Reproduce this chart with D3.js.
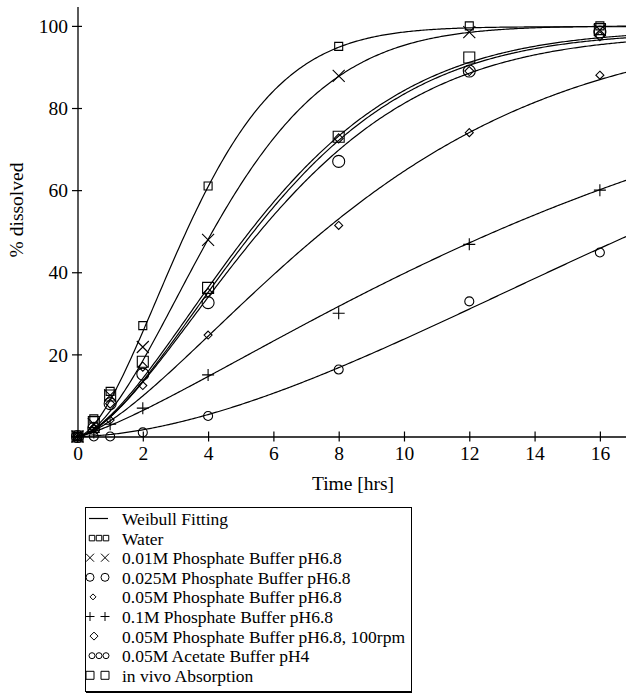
<!DOCTYPE html>
<html>
<head>
<meta charset="utf-8">
<script src="https://cdn.jsdelivr.net/npm/d3@7/dist/d3.min.js"></script>
<style>
  html, body { margin: 0; padding: 0; background: #fff; }
  svg { display: block; }
  text { font-family: "Liberation Serif", "DejaVu Serif", serif; fill: #000; }
</style>
</head>
<body>
<script>
// ---- Data ----
const times = [0, 0.5, 1, 2, 4, 8, 12, 16];
const seriesNames = [
  "Water",
  "0.01M Phosphate Buffer pH6.8",
  "0.025M Phosphate Buffer pH6.8",
  "0.05M Phosphate Buffer pH6.8",
  "0.1M Phosphate Buffer pH6.8",
  "0.05M Phosphate Buffer pH6.8, 100rpm",
  "0.05M Acetate Buffer pH4",
  "in vivo Absorption"
];
const water      = [0, 4.3, 11, 27, 61, 95, 100, 100];
const phos001    = [0, 3, 10, 21.8, 47.9, 87.8, 98.5, 99];
const phos0025   = [0, 2, 8, 15.2, 32.6, 67, 89, 98.5];
const phos005    = [0, 2, 4, 12.4, 24.7, 51.4, 74, 88];
const phos01     = [0, 1, 3, 6.9, 15, 30, 46.8, 60];
const phos005rpm = [0, 2, 8, 17, 35, 72.6, 89, 97.5];
const acetate    = [0, 0, 0, 1, 5, 16.3, 32.9, 44.8];
const invivo     = [0, 3.5, 10, 18.2, 36.2, 73, 92.3, 99.2];
const seriesValues = [water, phos001, phos0025, phos005, phos01, phos005rpm, acetate, invivo];

// Weibull fitting parameters per series: F(t) = Fmax * (1 - exp(-(t/Td)^b))
const fitFmax = [99.8, 100, 98, 100, 100, 98.5, 100, 99];
const fitTd   = [4.15, 5.15, 6.95, 9.74, 17.1, 6.72, 21.2, 6.62];
const fitB    = [1.67, 1.68, 1.55, 1.43, 1.27, 1.58, 1.74, 1.56];

const xTicks = [0, 2, 4, 6, 8, 10, 12, 14, 16];
const yTicks = [0, 20, 40, 60, 80, 100];
const legendLabels = ["Weibull Fitting"].concat(seriesNames);

// ---- Styles ----
const markerStyle = [
  {type: "square", size: 8},
  {type: "x", size: 12},
  {type: "circle", size: 12},
  {type: "diamond", size: 8},
  {type: "plus", size: 12},
  {type: "diamond", size: 9},
  {type: "circle", size: 9},
  {type: "square", size: 11}
];
const legendMarkers = [
  null,
  {type: "square", size: 5.5, xs: [92, 99, 106]},
  {type: "x", size: 8, xs: [90, 105]},
  {type: "circle", size: 8, xs: [90, 105]},
  {type: "diamond", size: 6, xs: [93]},
  {type: "plus", size: 9, xs: [90, 105]},
  {type: "diamond", size: 8, xs: [94]},
  {type: "circle", size: 6, xs: [92, 99, 106]},
  {type: "square", size: 8, xs: [90, 105]}
];

const W = 626, H = 694;
const svg = d3.select("body").append("svg").attr("width", W).attr("height", H);

const x = d3.scaleLinear().domain([0, 16.8]).range([77.5, 626]);
const y = d3.scaleLinear().domain([0, 104.6]).range([436.5, 7]);

function markerPath(type, s) {
  const h = s / 2;
  switch (type) {
    case "square": return `M${-h},${-h}H${h}V${h}H${-h}Z`;
    case "x": return `M${-h},${-h}L${h},${h}M${-h},${h}L${h},${-h}`;
    case "plus": return `M${-h},0H${h}M0,${-h}V${h}`;
    case "diamond": return `M0,${-h}L${h},0L0,${h}L${-h},0Z`;
    case "circle": return `M${h},0A${h},${h} 0 1,1 ${-h},0A${h},${h} 0 1,1 ${h},0Z`;
  }
}

// ---- Curves ----
const tSamples = d3.range(0, 16.8001, 0.05);
const line = d3.line().x(d => x(d[0])).y(d => y(d[1]));
const gCurves = svg.append("g");
seriesValues.forEach((vals, i) => {
  const pts = tSamples.map(t => [t, fitFmax[i] * (1 - Math.exp(-Math.pow(t / fitTd[i], fitB[i])))]);
  gCurves.append("path").attr("d", line(pts))
    .attr("fill", "none").attr("stroke", "#000").attr("stroke-width", 1.2);
});

// ---- Markers ----
const gMarks = svg.append("g");
seriesValues.forEach((vals, i) => {
  const st = markerStyle[i];
  gMarks.selectAll(null).data(times.map((t, k) => [t, vals[k]])).enter()
    .append("path")
    .attr("transform", d => `translate(${x(d[0])},${y(d[1])})`)
    .attr("d", markerPath(st.type, st.size))
    .attr("fill", "none").attr("stroke", "#000").attr("stroke-width", 1.1);
});

// ---- Axes ----
const gx = svg.append("g").attr("transform", `translate(0,${y(0)})`)
  .call(d3.axisBottom(x).tickValues(xTicks).tickSizeOuter(0).tickSize(5).tickFormat(d3.format("d")));
gx.select(".domain").attr("stroke-width", 1.3).attr("d", `M${x(0) - 5},0.5H${x.range()[1]}`);
gx.selectAll(".tick line").attr("y1", -5).attr("y2", 5).attr("stroke-width", 1.2);
gx.selectAll(".tick text").attr("y", 23.5).attr("dy", 0).attr("font-size", 19.5)
  .attr("font-family", "Liberation Serif");

const gy = svg.append("g").attr("transform", `translate(${x(0)},0)`)
  .call(d3.axisLeft(y).tickValues(yTicks).tickSizeOuter(0).tickSize(5.5)
    .tickFormat(d => d === 0 ? "" : d));
gy.select(".domain").attr("stroke-width", 1.3).attr("d", `M0.5,${y.range()[1]}V${y(0) + 1}`);
gy.selectAll(".tick line").attr("x1", -5.5).attr("x2", 4.5).attr("stroke-width", 1.2);
gy.selectAll(".tick text").attr("x", -9.5).attr("dy", "0.34em").attr("font-size", 19.5)
  .attr("font-family", "Liberation Serif");

svg.append("text").attr("x", 353).attr("y", 490).attr("text-anchor", "middle")
  .attr("font-size", 19.5).text("Time [hrs]");
svg.append("text").attr("transform", "translate(23,210) rotate(-90)")
  .attr("text-anchor", "middle").attr("font-size", 19.5).text("% dissolved");

// ---- Legend ----
const gl = svg.append("g");
gl.append("rect").attr("x", 85.5).attr("y", 507.5).attr("width", 326).attr("height", 184)
  .attr("fill", "#fff").attr("stroke", "#000").attr("stroke-width", 1);
gl.append("line").attr("x1", 86).attr("x2", 412).attr("y1", 692.5).attr("y2", 692.5)
  .attr("stroke", "#000").attr("stroke-width", 1);
legendLabels.forEach((lab, i) => {
  const base = 525 + i * 19.6;
  const cy = base - 6.5;
  gl.append("text").attr("x", 122).attr("y", base).attr("font-size", 17.5).text(lab);
  const lm = legendMarkers[i];
  if (!lm) {
    gl.append("line").attr("x1", 89).attr("x2", 108).attr("y1", cy).attr("y2", cy)
      .attr("stroke", "#000").attr("stroke-width", 1.2);
  } else {
    lm.xs.forEach(mx => {
      gl.append("path").attr("transform", `translate(${mx},${cy})`)
        .attr("d", markerPath(lm.type, lm.size))
        .attr("fill", "none").attr("stroke", "#000").attr("stroke-width", 1);
    });
  }
});
</script>
</body>
</html>
